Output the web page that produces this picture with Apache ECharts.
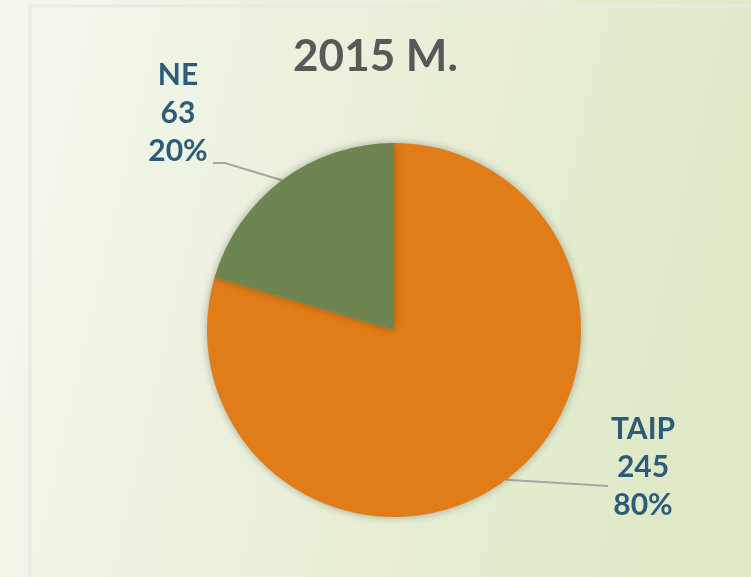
<!DOCTYPE html>
<html>
<head>
<meta charset="utf-8">
<script src="https://cdn.jsdelivr.net/npm/echarts@6/dist/echarts.min.js"></script>
<style>
html, body { margin: 0; padding: 0; }
#chart { width: 751px; height: 577px; }
</style>
</head>
<body>
<div id="chart"></div>
<script>
// data
var names = ['TAIP', 'NE'];
var values = [245, 63];
var colors = ['#E07D18', '#6E8552'];

var chart = echarts.init(document.getElementById('chart'));

var pieData = [];
for (var i = 0; i < names.length; i++) {
	pieData.push({ name: names[i], value: values[i], itemStyle: { color: colors[i] } });
}

option = {
	backgroundColor: new echarts.graphic.LinearGradient(0, 0, 1, 0.3, [
		{ offset: 0, color: '#F5F7EE' },
		{ offset: 1, color: '#DFE9C6' }
	]),
	title: {
		text: '2015 M.',
		left: 'center',
		top: 30,
		textStyle: { fontFamily: 'Lato', fontWeight: 'bold', fontSize: 44, color: '#595959' }
	},
	graphic: [{
		type: 'rect',
		shape: { x: 30, y: 6, width: 760, height: 600 },
		style: { fill: 'none', stroke: '#E8EAE4', lineWidth: 3 },
		z: -1
	}],
	series: [{
		type: 'pie',
		center: [394, 330],
		radius: 187,
		startAngle: 90,
		clockwise: true,
		data: pieData,
		itemStyle: { shadowBlur: 8, shadowColor: 'rgba(0,0,0,0.3)' },
		label: {
			show: true,
			position: 'outside',
			formatter: function (p) { return p.name + '\n' + p.value + '\n' + Math.round(p.percent) + '%'; },
			fontFamily: 'Lato',
			fontWeight: 'bold',
			fontSize: 30,
			lineHeight: 38,
			color: '#2F5B7B',
			align: 'center'
		},
		labelLine: {
			show: true,
			length: 10,
			length2: 40,
			smooth: false,
			lineStyle: { color: '#A6A6A6', width: 2 }
		},
		labelLayout: function (params) {
			var a = params.labelLinePoints ? params.labelLinePoints[0] : [0, 0];
			if (params.dataIndex === 0) {
				return {
					x: 643, y: 467, align: 'center', verticalAlign: 'middle',
					labelLinePoints: [a, [608, 486], [608, 486]]
				};
			}
			return {
				x: 178, y: 113, align: 'center', verticalAlign: 'middle',
				labelLinePoints: [a, [225, 163], [213, 163]]
			};
		}
	}]
};

chart.setOption(option);
</script>
</body>
</html>
